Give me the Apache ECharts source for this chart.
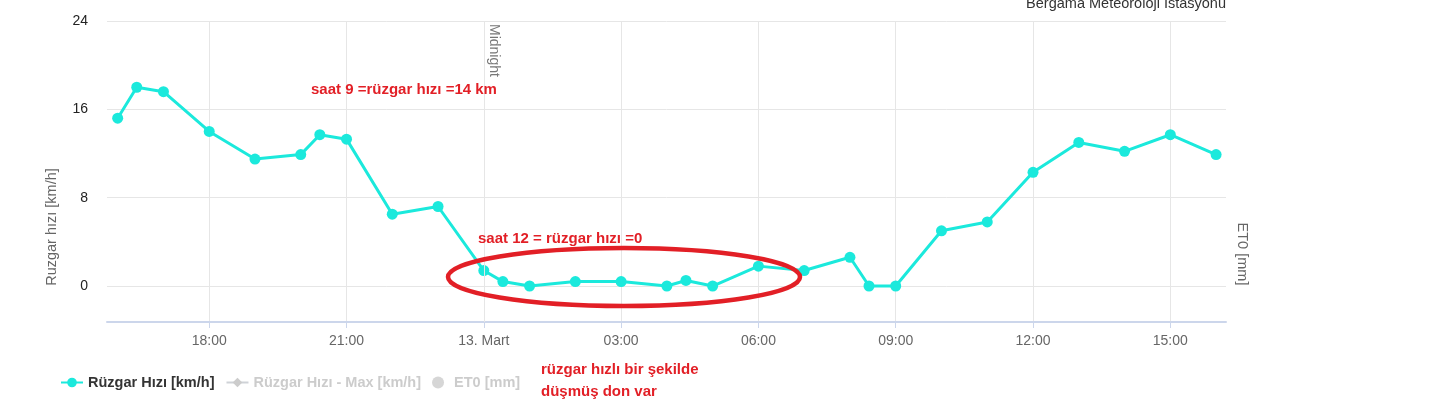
<!DOCTYPE html>
<html><head><meta charset="utf-8">
<script src="https://cdn.jsdelivr.net/npm/echarts@6/dist/echarts.min.js"></script>
<style>html,body{margin:0;padding:0;background:#fff}#c{width:1431px;height:410px}</style>
</head><body><div id="c"></div>
<script>
const times = ['2024-03-12 16:00','2024-03-12 16:25','2024-03-12 17:00','2024-03-12 18:00','2024-03-12 19:00','2024-03-12 20:00','2024-03-12 20:25','2024-03-12 21:00','2024-03-12 22:00','2024-03-12 23:00',
  '2024-03-13 00:00','2024-03-13 00:25','2024-03-13 01:00','2024-03-13 02:00','2024-03-13 03:00','2024-03-13 04:00','2024-03-13 04:25','2024-03-13 05:00','2024-03-13 06:00','2024-03-13 07:00',
  '2024-03-13 08:00','2024-03-13 08:25','2024-03-13 09:00','2024-03-13 10:00','2024-03-13 11:00','2024-03-13 12:00','2024-03-13 13:00','2024-03-13 14:00','2024-03-13 15:00','2024-03-13 16:00'];
const windSpeed = [15.2, 18.0, 17.6, 14.0, 11.5, 11.9, 13.7, 13.3, 6.5, 7.2,
  1.4, 0.4, 0, 0.4, 0.4, 0, 0.5, 0, 1.8, 1.4,
  2.6, 0, 0, 5.0, 5.8, 10.3, 13.0, 12.2, 13.7, 11.9];
const windMax = [];
const et0 = [];
const xTickTimes = ['2024-03-12 18:00','2024-03-12 21:00','2024-03-13 00:00','2024-03-13 03:00','2024-03-13 06:00','2024-03-13 09:00','2024-03-13 12:00','2024-03-13 15:00'];
const xTickLabels = ['18:00','21:00','13. Mart','03:00','06:00','09:00','12:00','15:00'];
const yTicks = [0, 8, 16, 24];
const xRange = ['2024-03-12 15:46', '2024-03-13 16:13'];
const yRange = [-3.26, 24];
const midnight = '2024-03-13 00:00';
const seriesNames = ['Rüzgar Hızı [km/h]', 'Rüzgar Hızı - Max [km/h]', 'ET0 [mm]'];
const chartTitle = 'Bergama Meteoroloji İstasyonu';
const yAxisTitle = 'Ruzgar hızı [km/h]';
const y2AxisTitle = 'ET0 [mm]';
const notes = ['saat 9 =rüzgar hızı =14 km', 'saat 12 = rüzgar hızı =0', 'rüzgar hızlı bir şekilde', 'düşmüş don var'];

function toTs(s) {
  const [d, t] = s.split(' ');
  const [Y, M, D] = d.split('-').map(Number);
  const [h, m] = t.split(':').map(Number);
  return new Date(Y, M - 1, D, h, m).getTime();
}
const xTickTs = xTickTimes.map(toTs);
const midTs = toTs(midnight);
const FONT = '"Liberation Sans", Arial, sans-serif';
const CYAN = '#1be9dc';
const RED = '#e21f26';

const chart = echarts.init(document.getElementById('c'), null, {renderer: 'canvas'});
chart.setOption({
  animation: false,
  backgroundColor: '#fff',
  grid: {left: 107, right: 205, top: 21, bottom: 88, containLabel: false},
  legend: {
    left: 55, top: 370, itemWidth: 22, itemHeight: 12, itemGap: 11,
    inactiveColor: '#cccccc',
    textStyle: {fontFamily: FONT, fontSize: 14.5, fontWeight: 'bold', color: '#333'},
    data: [{name: seriesNames[0]}, {name: seriesNames[1]}, {name: seriesNames[2], icon: 'circle'}],
    selected: {[seriesNames[1]]: false, [seriesNames[2]]: false}
  },
  xAxis: {
    type: 'value', min: toTs(xRange[0]), max: toTs(xRange[1]),
    axisLine: {show: true, onZero: false, lineStyle: {color: '#ccd6eb', width: 2}},
    axisTick: {show: true, length: 6, customValues: xTickTs, lineStyle: {color: '#ccd6eb'}},
    axisLabel: {customValues: xTickTs, color: '#666', fontSize: 14, fontFamily: FONT, margin: 12,
      formatter: v => { const i = xTickTs.indexOf(v); return i >= 0 ? xTickLabels[i] : ''; }},
    splitLine: {show: true, lineStyle: {color: '#e6e6e6', width: 1}}
  },
  yAxis: {
    type: 'value', min: yRange[0], max: yRange[1],
    axisLine: {show: false},
    axisTick: {show: false, customValues: yTicks},
    axisLabel: {customValues: yTicks, color: '#222', fontSize: 14, fontFamily: FONT, margin: 19},
    splitLine: {show: true, lineStyle: {color: '#e6e6e6', width: 1}}
  },
  series: [
    {
      name: seriesNames[0], type: 'line',
      data: times.map((t, i) => [toTs(t), windSpeed[i]]),
      symbol: 'circle', symbolSize: 11, showSymbol: true,
      lineStyle: {color: CYAN, width: 3}, itemStyle: {color: CYAN}, z: 3,
      markLine: {
        silent: true, symbol: 'none', animation: false,
        lineStyle: {color: '#e6e6e6', width: 1, type: 'solid'},
        label: {show: true, formatter: 'Midnight', position: 'insideStartTop', color: '#777', fontSize: 14, fontFamily: FONT, distance: 3},
        data: [[{coord: [midTs, yRange[1]]}, {coord: [midTs, yRange[0]]}]]
      }
    },
    {
      name: seriesNames[1], type: 'line', data: windMax,
      symbol: 'diamond', symbolSize: 10,
      lineStyle: {color: '#90ed7d', width: 2}, itemStyle: {color: '#90ed7d'}
    },
    {
      name: seriesNames[2], type: 'scatter', data: et0,
      symbol: 'circle', itemStyle: {color: '#434348'}
    }
  ],
  graphic: [
    {type: 'text', x: 1226, y: 3.5, style: {text: chartTitle, fill: '#333', font: '14.5px ' + FONT, fontSize: 14.5, fontFamily: FONT, align: 'right', verticalAlign: 'middle'}},
    {type: 'text', x: 52, y: 227, rotation: Math.PI / 2, style: {text: yAxisTitle, fill: '#666', font: '14.5px ' + FONT, fontSize: 14.5, fontFamily: FONT, align: 'center', verticalAlign: 'middle'}},
    {type: 'text', x: 1242, y: 254, rotation: -Math.PI / 2, style: {text: y2AxisTitle, fill: '#666', font: '14.5px ' + FONT, fontSize: 14.5, fontFamily: FONT, align: 'center', verticalAlign: 'middle'}},
    {type: 'text', x: 311, y: 90, z: 100, style: {text: notes[0], fill: RED, font: 'bold 15px ' + FONT, fontSize: 15, fontWeight: 'bold', fontFamily: FONT, align: 'left', verticalAlign: 'middle'}},
    {type: 'text', x: 478, y: 239, z: 100, style: {text: notes[1], fill: RED, font: 'bold 15px ' + FONT, fontSize: 15, fontWeight: 'bold', fontFamily: FONT, align: 'left', verticalAlign: 'middle'}},
    {type: 'text', x: 541, y: 370, z: 100, style: {text: notes[2], fill: RED, font: 'bold 15px ' + FONT, fontSize: 15, fontWeight: 'bold', fontFamily: FONT, align: 'left', verticalAlign: 'middle'}},
    {type: 'text', x: 541, y: 392, z: 100, style: {text: notes[3], fill: RED, font: 'bold 15px ' + FONT, fontSize: 15, fontWeight: 'bold', fontFamily: FONT, align: 'left', verticalAlign: 'middle'}},
    {type: 'ellipse', z: 100, shape: {cx: 624, cy: 277, rx: 176, ry: 29}, style: {fill: 'none', stroke: RED, lineWidth: 4.5}}
  ]
});
</script></body></html>
